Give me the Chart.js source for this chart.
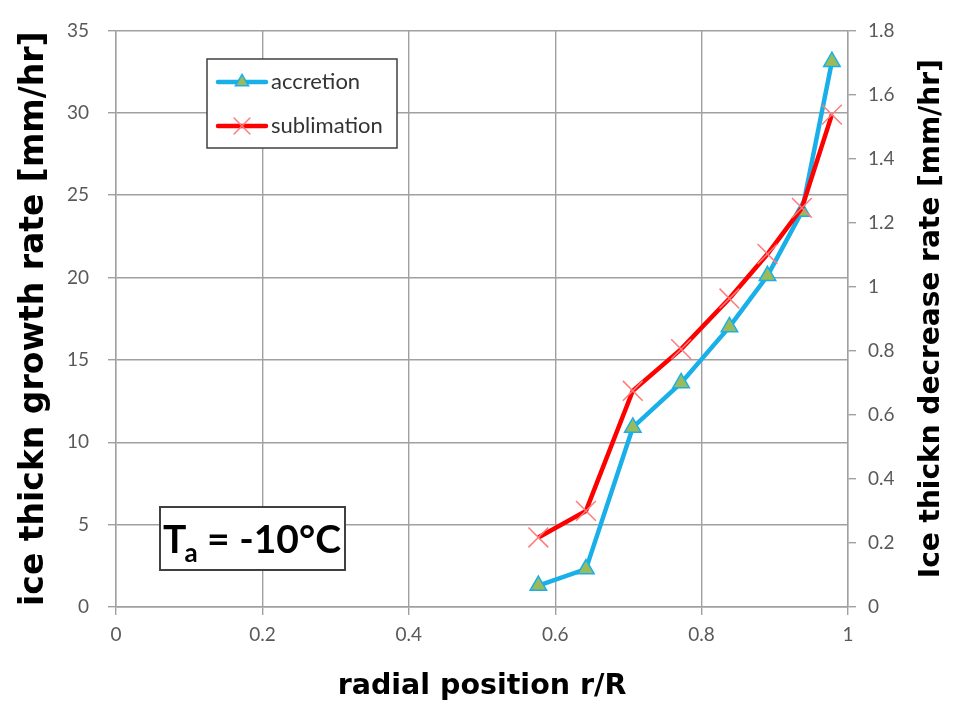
<!DOCTYPE html>
<html><head><meta charset="utf-8">
<script src="https://cdn.jsdelivr.net/npm/chart.js@4/dist/chart.umd.min.js"></script>
<style>html,body{margin:0;padding:0;background:#fff;}#wrap{position:relative;width:953px;height:701px;}</style>
</head><body><div id="wrap"><canvas id="c" width="953" height="701"></canvas></div>
<script>
const radialPos = [0.577, 0.642, 0.706, 0.772, 0.838, 0.890, 0.937, 0.978];
const accretion = [1.3, 2.3, 10.9, 13.6, 17.0, 20.1, 24.0, 33.1];
const sublimation = [0.217, 0.30, 0.675, 0.805, 0.963, 1.102, 1.246, 1.537];
const seriesNames = ['accretion', 'sublimation'];
const xTitle = 'radial position r/R';
const yLeftTitle = 'ice thickn growth rate [mm/hr]';
const yRightTitle = 'Ice thickn decrease rate [mm/hr]';
const tempMain = 'T', tempSub = 'a', tempRest = ' = -10°C';

const FONT = 'Lato, "Open Sans", sans-serif';
const TFONT = '"DejaVu Sans", sans-serif';
const GRID = '#a0a0a0';
const BLUE = '#19B0EA', RED = '#FF0000';
const TICKC = '#595959';

const toXY = (xs, ys) => xs.map((x, i) => ({x: x, y: ys[i]}));
const fmt = v => String(+v.toFixed(2));

const overlay = {
  id: 'overlay',
  afterDraw(chart) {
    const ctx = chart.ctx;
    const area = chart.chartArea;
    // right axis title, rotated reading bottom-to-top
    ctx.save();
    ctx.translate(932, (area.top + area.bottom) / 2);
    ctx.rotate(-Math.PI / 2);
    ctx.textAlign = 'center'; ctx.textBaseline = 'middle';
    ctx.fillStyle = '#000';
    ctx.font = 'bold 28px ' + TFONT;
    ctx.fillText(yRightTitle, 0, 0);
    ctx.restore();

    // legend
    ctx.save();
    ctx.fillStyle = '#fff'; ctx.strokeStyle = '#404040'; ctx.lineWidth = 1.5;
    ctx.fillRect(207, 59, 190, 89); ctx.strokeRect(207, 59, 190, 89);
    const items = [
      {name: seriesNames[0], y: 82, ds: chart.data.datasets[0]},
      {name: seriesNames[1], y: 126, ds: chart.data.datasets[1]}
    ];
    items.forEach(it => {
      ctx.strokeStyle = it.ds.borderColor; ctx.lineWidth = it.ds.borderWidth;
      ctx.lineCap = 'round';
      ctx.beginPath(); ctx.moveTo(218, it.y); ctx.lineTo(266, it.y); ctx.stroke();
      ctx.fillStyle = it.ds.pointBackgroundColor; ctx.strokeStyle = it.ds.pointBorderColor;
      ctx.lineWidth = it.ds.pointBorderWidth;
      Chart.helpers.drawPoint(ctx, {pointStyle: it.ds.pointStyle, radius: it.ds.pointRadius * 0.8, rotation: 0, borderWidth: it.ds.pointBorderWidth}, 242, it.y);
      ctx.fillStyle = '#333'; ctx.font = '22px ' + FONT;
      ctx.textAlign = 'left'; ctx.textBaseline = 'middle';
      ctx.fillText(it.name, 271, it.y);
    });
    ctx.restore();

    // temperature box
    ctx.save();
    ctx.fillStyle = '#fff'; ctx.strokeStyle = '#404040'; ctx.lineWidth = 2;
    ctx.fillRect(160, 507, 185, 63); ctx.strokeRect(160, 507, 185, 63);
    ctx.fillStyle = '#000'; ctx.textBaseline = 'alphabetic'; ctx.textAlign = 'left';
    let x = 163;
    ctx.font = 'bold 39px ' + FONT;
    ctx.fillText(tempMain, x, 553); x += ctx.measureText(tempMain).width - 2;
    ctx.font = 'bold 26px ' + FONT;
    ctx.fillText(tempSub, x, 562); x += ctx.measureText(tempSub).width;
    ctx.font = 'bold 39px ' + FONT;
    ctx.fillText(tempRest, x, 553);
    ctx.restore();
  }
};

new Chart(document.getElementById('c'), {
  type: 'scatter',
  data: {
    datasets: [
      {label: seriesNames[0], data: toXY(radialPos, accretion), yAxisID: 'y', showLine: true,
       borderColor: BLUE, borderWidth: 4.5, pointStyle: 'triangle', pointRadius: 9.5,
       pointBackgroundColor: '#9BBB59', pointBorderColor: BLUE, pointBorderWidth: 1.5, order: 2},
      {label: seriesNames[1], data: toXY(radialPos, sublimation), yAxisID: 'y2', showLine: true,
       borderColor: RED, borderWidth: 4.5, pointStyle: 'crossRot', pointRadius: 14,
       pointBackgroundColor: '#FF7A7A', pointBorderColor: '#FF7A7A', pointBorderWidth: 1.5, order: 1}
    ]
  },
  options: {
    responsive: false, animation: false, devicePixelRatio: 1,
    layout: {padding: {top: 25, left: 0, right: 0, bottom: 0}},
    plugins: {legend: {display: false}, tooltip: {enabled: false}},
    scales: {
      x: {type: 'linear', min: 0, max: 1,
          ticks: {stepSize: 0.2, color: TICKC, font: {size: 19, family: FONT}, padding: 8, callback: fmt},
          grid: {color: GRID, lineWidth: 1.4, tickLength: 8},
          border: {color: GRID, width: 1.4},
          title: {display: true, text: xTitle, color: '#000', font: {size: 28.5, weight: 'bold', family: TFONT, lineHeight: 1.0}, padding: {bottom: 0}},
          afterFit(s) { s.height = 94; }},
      y: {position: 'left', min: 0, max: 35,
          ticks: {stepSize: 5, color: TICKC, font: {size: 19, family: FONT}, padding: 19, callback: fmt},
          grid: {color: GRID, lineWidth: 1.4, tickLength: 8},
          border: {color: GRID, width: 1.4},
          title: {display: true, text: yLeftTitle, color: '#000', font: {size: 33, weight: 'bold', family: TFONT}, padding: {top: 15}},
          afterFit(s) { s.width = 116; }},
      y2: {position: 'right', min: 0, max: 1.8,
          ticks: {stepSize: 0.2, color: TICKC, font: {size: 19, family: FONT}, padding: 12, callback: fmt},
          grid: {drawOnChartArea: false, color: GRID, lineWidth: 1.4, tickLength: 8},
          border: {color: GRID, width: 1.4},
          afterFit(s) { s.width = 105; }}
    }
  },
  plugins: [overlay]
});
</script></body></html>
